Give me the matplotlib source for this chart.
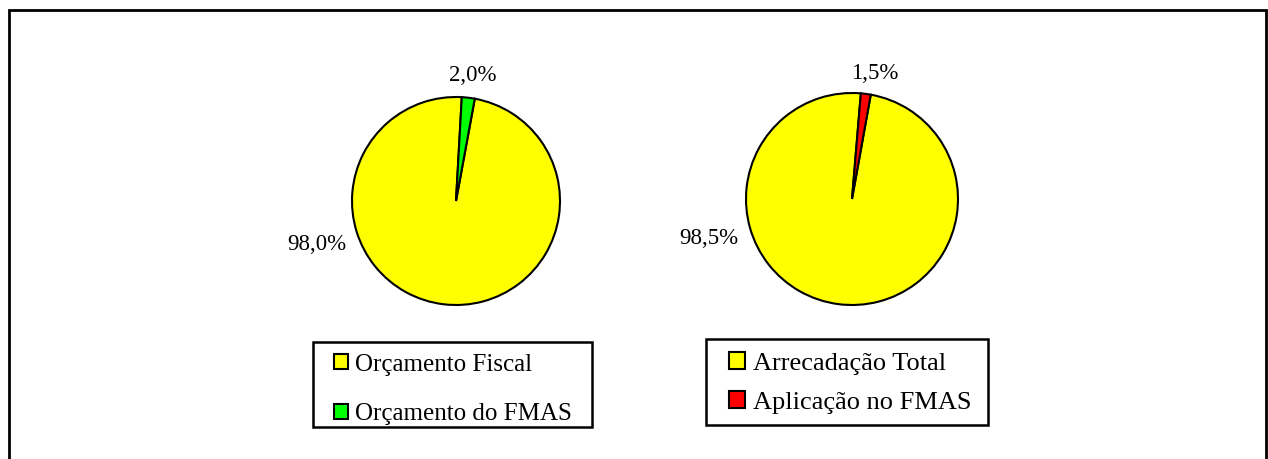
import numpy as np
import matplotlib
matplotlib.use('Agg')
import matplotlib.pyplot as plt
from matplotlib.patches import Rectangle, Patch

plt.rcParams['font.family'] = ['Liberation Serif', 'DejaVu Serif']

# ---------------- data ---------------- #
left_labels = ['Orçamento Fiscal', 'Orçamento do FMAS']
left_values = [98.0, 2.0]
left_colors = ['#FFFF00', '#00FF00']

right_labels = ['Arrecadação Total', 'Aplicação no FMAS']
right_values = [98.5, 1.5]
right_colors = ['#FFFF00', '#FF0000']

W, H = 1268, 459
fig = plt.figure(figsize=(W/100, H/100), dpi=100)

def px_box(x0, y0, x1, y1, lw):
	# rectangle given in pixels (top-left origin)
	fig.patches.append(Rectangle((x0/W, 1 - y1/H), (x1 - x0)/W, (y1 - y0)/H, transform=fig.transFigure,
	                             fill=False, edgecolor='black', linewidth=lw, clip_on=False))

# outer frame (bottom edge is cut off)
px_box(9, 10, 1266, 480, 2)

def fmt(v):
	return ('%.1f' % v).replace('.', ',') + '%'

def pie_axes(cx, cy, r):
	return fig.add_axes([(cx - r)/W, (H - cy - r)/H, 2*r/W, 2*r/H])

def draw_pie(ax, values, colors, startoff, label_pos):
	ax.pie(values, colors=colors, startangle=90 - startoff, counterclock=False,
	       wedgeprops=dict(edgecolor='black', linewidth=1.5))
	ax.set_xlim(-1, 1)
	ax.set_ylim(-1, 1)
	ax.set_aspect('auto')
	ax.axis('off')
	for v, (x, y) in zip(values, label_pos):
		ax.text(x, y, fmt(v), ha='center', va='center', fontsize=16.5, clip_on=False)

axL = pie_axes(456, 201, 104)
draw_pie(axL, left_values, left_colors, 10.4, [(-1.34, -0.42), (0.16, 1.21)])

axR = pie_axes(852, 199, 106)
draw_pie(axR, right_values, right_colors, 10.2, [(-1.35, -0.37), (0.21, 1.18)])

def add_legend(labels, colors, box, hx, ymid, fs, spacing, hl, hh):
	px_box(*box, 1.8)
	handles = [Patch(facecolor=c, edgecolor='black', linewidth=1.5) for c in colors]
	fig.legend(handles, labels, loc='center left', bbox_to_anchor=(hx/W, 1 - ymid/H),
	           fontsize=fs, frameon=False, handlelength=hl, handleheight=hh,
	           handletextpad=0.3, labelspacing=spacing, borderpad=0, borderaxespad=0)

add_legend(left_labels, left_colors, (313, 342, 592, 427), 334, 389.5, 18, 1.1, 0.55, 0.55)
add_legend(right_labels, right_colors, (706, 339, 988, 425), 729, 383, 19, 0.6, 0.6, 0.6)

fig.savefig('out.png', dpi=100)
